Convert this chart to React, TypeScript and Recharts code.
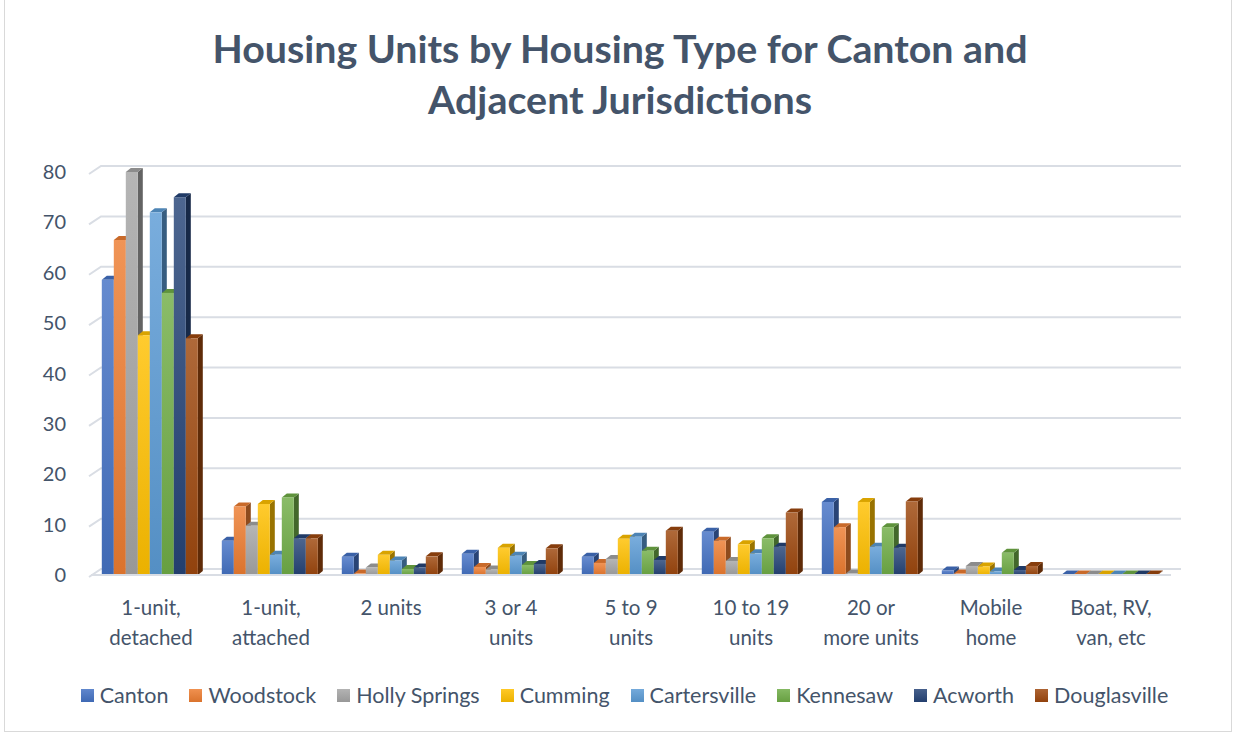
import React from 'react';
import { BarChart, Bar, XAxis, YAxis, CartesianGrid } from 'recharts';

const categories = [
  '1-unit,\ndetached',
  '1-unit,\nattached',
  '2 units',
  '3 or 4\nunits',
  '5 to 9\nunits',
  '10 to 19\nunits',
  '20 or\nmore units',
  'Mobile\nhome',
  'Boat, RV,\nvan, etc',
];

const canton = [58.6, 6.8, 3.6, 4.2, 3.6, 8.6, 14.5, 0.9, 0.1];
const woodstock = [66.5, 13.6, 0.3, 1.6, 2.4, 6.8, 9.5, 0.3, 0.1];
const hollySprings = [80, 9.8, 1.5, 1.1, 3.2, 2.8, 0.3, 1.8, 0.1];
const cumming = [47.6, 14.1, 4.0, 5.4, 7.2, 6.1, 14.5, 1.7, 0.1];
const cartersville = [72.0, 4.0, 2.9, 3.8, 7.6, 4.3, 5.6, 0.7, 0.1];
const kennesaw = [56.0, 15.4, 1.2, 2.0, 4.8, 7.3, 9.5, 4.4, 0.1];
const acworth = [75.0, 7.3, 1.5, 2.2, 3.0, 5.6, 5.4, 1.0, 0.1];
const douglasville = [47.0, 7.3, 3.7, 5.3, 8.8, 12.4, 14.6, 1.8, 0.1];

const seriesNames = ['Canton', 'Woodstock', 'Holly Springs', 'Cumming', 'Cartersville', 'Kennesaw', 'Acworth', 'Douglasville'];
const seriesValues = [canton, woodstock, hollySprings, cumming, cartersville, kennesaw, acworth, douglasville];
const seriesColors = ['#4472C4', '#ED7D31', '#A5A5A5', '#FFC000', '#5B9BD5', '#70AD47', '#264478', '#9E480E'];

const yTicks = [0, 10, 20, 30, 40, 50, 60, 70, 80];

const titleLines = ['Housing Units by Housing Type for Canton and', 'Adjacent Jurisdictions'];

const data = categories.map((c, i) => {
  const row: any = { category: c };
  seriesNames.forEach((n, k) => {
    row[n] = seriesValues[k][i];
  });
  return row;
});

const TEXT = '#44546A';
const FONT = 'Lato, "Open Sans", sans-serif';

function shade(hex: string, f: number) {
  const n = parseInt(hex.slice(1), 16);
  let r = (n >> 16) & 255, g = (n >> 8) & 255, b = n & 255;
  const adj = (v: number) => (f >= 0 ? Math.round(v + (255 - v) * f) : Math.round(v * (1 + f)));
  r = adj(r); g = adj(g); b = adj(b);
  return `rgb(${r},${g},${b})`;
}

const D = 5;
const DY = 4;

const Bar3D = (props: any) => {
  const { x, y, width, height, k } = props;
  if (x == null || y == null) return null;
  const c = seriesColors[k];
  const w = width;
  const h = Math.max(height, 0.5);
  const top = [
    [x, y], [x + D, y - DY], [x + w + D, y - DY], [x + w, y],
  ].map((p) => p.join(',')).join(' ');
  const side = [
    [x + w, y], [x + w + D, y - DY], [x + w + D, y + h - DY], [x + w, y + h],
  ].map((p) => p.join(',')).join(' ');
  return (
    <g>
      <polygon points={side} fill={shade(c, -0.4)} />
      <polygon points={top} fill={shade(c, -0.15)} />
      <rect x={x} y={y} width={w} height={h} fill={`url(#grad${k})`} />
    </g>
  );
};

const CategoryTick = (props: any) => {
  const { x, y, payload } = props;
  const lines = String(payload.value).split('\n');
  return (
    <g transform={`translate(${x},${y})`}>
      {lines.map((l, i) => (
        <text key={i} x={0} y={32 + i * 30} textAnchor="middle" fill={TEXT} fontSize={20.5} fontFamily={FONT}>
          {l}
        </text>
      ))}
    </g>
  );
};

const GridLine = (props: any) => {
  const { x1, x2, y1, index } = props;
  return (
    <path
      key={`g${index}-${y1}`}
      d={`M${x1 - 2},${y1 + 2} L${x1 + 10},${y1 - 6} L${x2 + 10},${y1 - 6}`}
      stroke="#D9DDE4"
      strokeWidth={2}
      fill="none"
    />
  );
};

export default function App() {
  return (
    <div style={{ position: 'absolute', left: 0, top: 0, width: 1233, height: 735, background: '#fff', fontFamily: FONT }}>
      <svg width={1233} height={735} style={{ position: 'absolute', left: 0, top: 0 }}>
        <rect x={4.5} y={-2} width={1227} height={733.5} fill="#fff" stroke="#D9D9D9" />
        {titleLines.map((t, i) => (
          <text
            key={i}
            x={620}
            y={63 + i * 51}
            textAnchor="middle"
            fontSize={38}
            fontWeight={700}
            fill={TEXT}
            fontFamily={FONT}
            textLength={i === 0 ? 815 : 384}
            lengthAdjust="spacingAndGlyphs"
          >
            {t}
          </text>
        ))}
      </svg>
      <div style={{ position: 'absolute', left: 0, top: 0 }}>
        <BarChart
          width={1233}
          height={735}
          data={data}
          margin={{ top: 172, right: 62, left: 33, bottom: 100 }}
          barCategoryGap="9%"
          barGap={0}
        >
          <defs>
            {seriesColors.map((c, k) => (
              <linearGradient key={k} id={`grad${k}`} x1="0" y1="0" x2="0" y2="1">
                <stop offset="0%" stopColor={shade(c, 0.18)} />
                <stop offset="100%" stopColor={shade(c, -0.08)} />
              </linearGradient>
            ))}
          </defs>
          <CartesianGrid vertical={false} horizontal={GridLine as any} />
          <XAxis
            dataKey="category"
            height={60}
            axisLine={{ stroke: '#D9DDE4', strokeWidth: 2 }}
            tickLine={false}
            tick={<CategoryTick />}
            interval={0}
          />
          <YAxis
            width={58}
            domain={[0, 80]}
            ticks={yTicks}
            axisLine={false}
            tickLine={false}
            tickSize={0}
            tickMargin={25}
            tick={{ fill: TEXT, fontSize: 20, fontFamily: FONT }}
          />
          {seriesNames.map((n, k) => (
            <Bar
              key={n}
              dataKey={n}
              isAnimationActive={false}
              fill={seriesColors[k]}
              shape={(p: any) => <Bar3D {...p} k={k} />}
            />
          ))}
        </BarChart>
      </div>
      <div
        style={{
          position: 'absolute',
          left: 8,
          top: 682,
          width: 1233,
          display: 'flex',
          justifyContent: 'center',
          gap: 21,
          fontSize: 21.5,
          color: TEXT,
          fontFamily: FONT,
          lineHeight: '26px',
        }}
      >
        {seriesNames.map((n, k) => (
          <div key={n} style={{ display: 'flex', alignItems: 'center' }}>
            <span style={{ display: 'inline-block', width: 13, height: 13, background: `linear-gradient(${shade(seriesColors[k], 0.15)}, ${shade(seriesColors[k], -0.08)})`, marginRight: 6 }} />
            <span>{n}</span>
          </div>
        ))}
      </div>
    </div>
  );
}
